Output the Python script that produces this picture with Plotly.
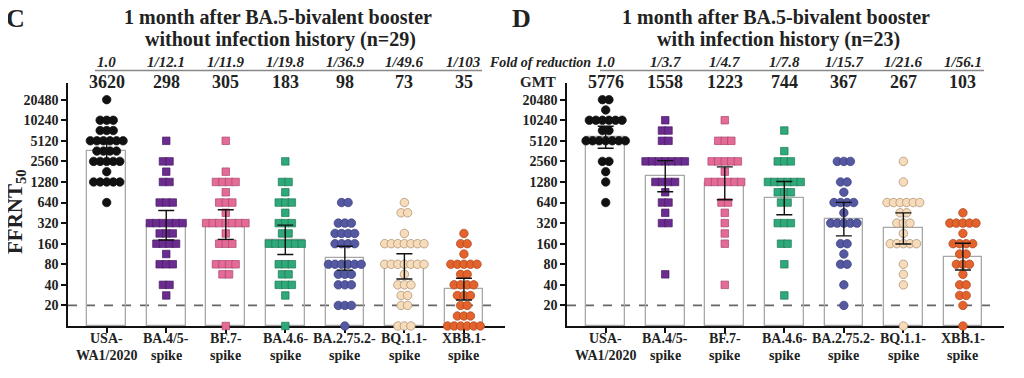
import numpy as np
import plotly.graph_objects as go

# ---------------- data ----------------
categories = [("USA-", "WA1/2020"), ("BA.4/5-", "spike"), ("BF.7-", "spike"), ("BA.4.6-", "spike"),
              ("BA.2.75.2-", "spike"), ("BQ.1.1-", "spike"), ("XBB.1-", "spike")]
fold_c = ["1.0", "1/12.1", "1/11.9", "1/19.8", "1/36.9", "1/49.6", "1/103"]
gmt_c = [3620, 298, 305, 183, 98, 73, 35]
fold_d = ["1.0", "1/3.7", "1/4.7", "1/7.8", "1/15.7", "1/21.6", "1/56.1"]
gmt_d = [5776, 1558, 1223, 744, 367, 267, 103]
y_ticks = [20, 40, 80, 160, 320, 640, 1280, 2560, 5120, 10240, 20480]
LOD = 20

# panel C: titre levels and number of sera at each level
usa_c_lv = [20480, 10240, 7240, 5120, 3620, 2560, 1810, 1280, 640]
usa_c_n = [1, 3, 3, 6, 4, 5, 1, 5, 1]
ba45_c_lv = [5120, 2560, 1810, 1280, 640, 320, 226, 160, 113, 80, 40, 28]
ba45_c_n = [1, 2, 1, 2, 3, 6, 3, 4, 1, 3, 2, 1]
bf7_c_lv = [5120, 1810, 1280, 905, 640, 453, 320, 226, 160, 80, 57, 10]
bf7_c_n = [1, 1, 4, 1, 3, 1, 7, 1, 3, 4, 2, 1]
ba46_c_lv = [2560, 1280, 905, 640, 453, 320, 226, 160, 80, 57, 40, 28, 10]
ba46_c_n = [1, 2, 1, 3, 1, 3, 2, 6, 3, 2, 3, 1, 1]
ba2752_c_lv = [640, 320, 226, 160, 80, 57, 40, 20, 10]
ba2752_c_n = [2, 3, 4, 4, 6, 3, 3, 3, 1]
bq11_c_lv = [640, 453, 226, 160, 80, 57, 40, 28, 20, 10]
bq11_c_n = [1, 2, 1, 7, 7, 1, 3, 2, 2, 3]
xbb1_c_lv = [226, 160, 113, 80, 57, 40, 28, 20, 14, 10]
xbb1_c_n = [1, 2, 1, 5, 2, 4, 3, 2, 3, 6]

# panel D
usa_d_lv = [20480, 14480, 10240, 7240, 5120, 2560, 1810, 1280, 640]
usa_d_n = [2, 1, 6, 2, 7, 2, 1, 1, 1]
ba45_d_lv = [10240, 7240, 5120, 2560, 1280, 905, 640, 453, 320, 57]
ba45_d_n = [1, 2, 2, 7, 4, 1, 2, 1, 2, 1]
bf7_d_lv = [10240, 5120, 2560, 1810, 1280, 640, 453, 320, 226, 160, 40]
bf7_d_n = [1, 3, 5, 1, 6, 2, 1, 1, 1, 1, 1]
ba46_d_lv = [7240, 3620, 2560, 1280, 905, 640, 320, 160, 80, 28]
ba46_d_n = [1, 1, 3, 6, 3, 2, 3, 2, 1, 1]
ba2752_d_lv = [2560, 1280, 905, 640, 453, 320, 160, 113, 80, 40, 20]
ba2752_d_n = [3, 2, 1, 4, 1, 5, 2, 1, 2, 1, 1]
bq11_d_lv = [2560, 1280, 640, 453, 320, 226, 160, 80, 57, 40, 10]
bq11_d_n = [1, 1, 6, 2, 3, 1, 5, 1, 1, 1, 1]
xbb1_d_lv = [453, 320, 226, 160, 113, 80, 57, 40, 28, 20, 10]
xbb1_d_n = [1, 5, 1, 4, 2, 3, 1, 2, 2, 1, 1]

series_c = [(usa_c_lv, usa_c_n), (ba45_c_lv, ba45_c_n), (bf7_c_lv, bf7_c_n), (ba46_c_lv, ba46_c_n),
            (ba2752_c_lv, ba2752_c_n), (bq11_c_lv, bq11_c_n), (xbb1_c_lv, xbb1_c_n)]
series_d = [(usa_d_lv, usa_d_n), (ba45_d_lv, ba45_d_n), (bf7_d_lv, bf7_d_n), (ba46_d_lv, ba46_d_n),
            (ba2752_d_lv, ba2752_d_n), (bq11_d_lv, bq11_d_n), (xbb1_d_lv, xbb1_d_n)]

# ---------------- styles ----------------
fills = ["#111111", "#6B2C8F", "#E56B97", "#2FA97A", "#5559A2", "#F6DCBA", "#E4632D"]
edges = ["#111111", "#4A1A66", "#A94570", "#1E7A55", "#383C7A", "#A8896A", "#A8451C"]
symbols = ["circle", "square", "square", "square", "circle", "circle", "circle"]
sizes = [8.5, 7.5, 7.5, 7.5, 8.5, 8.5, 8.5]
T_CRIT = {29: 2.048, 23: 2.074}
SERIF = "Liberation Serif"
DX = 0.11  # horizontal spacing of a swarm row, in category units

fig = go.Figure()


def add_panel(series, gmt, xa, ya):
    xs = list(range(len(series)))
    # bars at the GMT
    fig.add_trace(go.Bar(x=xs, y=[g - 10 for g in gmt], base=[10] * len(gmt), width=0.65,
                         marker=dict(color="rgba(255,255,255,0)", line=dict(color="#A8A8A8", width=1.3)),
                         xaxis=xa, yaxis=ya, showlegend=False, hoverinfo="skip"))
    gms, lo, hi = [], [], []
    for i, (lv, n) in enumerate(series):
        px_, py_ = [], []
        for v, c in zip(lv, n):
            for k in range(c):
                px_.append(i + (k - (c - 1) / 2) * DX)
                py_.append(v)
        fig.add_trace(go.Scatter(x=px_, y=py_, mode="markers", xaxis=xa, yaxis=ya, cliponaxis=False,
                                 marker=dict(symbol=symbols[i], size=sizes[i], color=fills[i],
                                             line=dict(color=edges[i], width=0.7)),
                                 showlegend=False, hoverinfo="skip"))
        lg = np.log2(np.array(py_, dtype=float))
        m = lg.mean()
        h = T_CRIT[len(lg)] * lg.std(ddof=1) / np.sqrt(len(lg))
        gms.append(2 ** m)
        lo.append(2 ** m - 2 ** (m - h))
        hi.append(2 ** (m + h) - 2 ** m)
    fig.add_trace(go.Scatter(x=xs, y=gms, mode="markers", xaxis=xa, yaxis=ya, cliponaxis=False,
                             marker=dict(size=2, color="rgba(0,0,0,0)"),
                             error_y=dict(type="data", symmetric=False, array=hi, arrayminus=lo,
                                          color="#111111", thickness=1.4, width=8),
                             showlegend=False, hoverinfo="skip"))


add_panel(series_c, gmt_c, "x", "y")
add_panel(series_d, gmt_d, "x2", "y2")

# The page body adds an 8px offset; size the figure so it lands where the reference is.
OFF = 8
W, H = 1024 - OFF, 378 - OFF
L, R, T, B = 68 - OFF, 20, 83 - OFF, 52
pw = W - L - R
d1 = [0, (505 - 68) / pw]
d2 = [(567 - 68) / pw, 1.0]

xr = [-0.65, 6.69]
yr = [1, np.log10(35900)]
xcommon = dict(range=xr, tickvals=list(range(7)), showticklabels=False, ticks="outside", ticklen=5,
               tickwidth=1.5, tickcolor="#111", showline=True, linecolor="#111", linewidth=2,
               showgrid=False, zeroline=False, layer="below traces", automargin=False)
ycommon = dict(type="log", range=yr, tickvals=y_ticks, ticktext=[str(t) for t in y_ticks],
               ticks="outside", ticklen=5, tickwidth=1.5, tickcolor="#111", showline=True,
               linecolor="#111", linewidth=1.5, showgrid=False, zeroline=False, automargin=False,
               tickfont=dict(family=SERIF, size=14, color="#222", weight="bold"))

fig.update_layout(
    width=W, height=H, margin=dict(l=L, r=R, t=T, b=B, autoexpand=False),
    paper_bgcolor="white", plot_bgcolor="white", bargap=0,
    xaxis=dict(domain=d1, anchor="y", **xcommon),
    yaxis=dict(domain=[0, 1], anchor="x", **ycommon),
    xaxis2=dict(domain=d2, anchor="y2", **xcommon),
    yaxis2=dict(domain=[0, 1], anchor="x2", **ycommon),
)

# dashed limit-of-detection line
for xa in ["x", "x2"]:
    fig.add_shape(type="line", xref=f"{xa} domain", yref=xa.replace("x", "y"), x0=0, x1=0.97,
                  y0=LOD, y1=LOD, line=dict(color="#666", width=1.6, dash="dash"), layer="below")


def py(pix):  # screen pixel row -> paper y
    return (H - B - (pix - OFF)) / (H - T - B)


def px(pix):  # screen pixel column -> paper x
    return (pix - OFF - L) / pw


ann = []
# panel letters
ann.append(dict(text="<b>C</b>", x=px(15), y=py(18), font=dict(size=26)))
ann.append(dict(text="<b>D</b>", x=px(521), y=py(18), font=dict(size=26)))
# titles (one annotation per line to keep the tight line spacing)
ann.append(dict(text="<b>1 month after BA.5-bivalent booster</b>", x=px(278), y=py(17), font=dict(size=20)))
ann.append(dict(text="<b>without infection history (n=29)</b>", x=px(280), y=py(39.5), font=dict(size=20)))
ann.append(dict(text="<b>1 month after BA.5-bivalent booster</b>", x=px(776), y=py(17), font=dict(size=20)))
ann.append(dict(text="<b>with infection history (n=23)</b>", x=px(778), y=py(39.5), font=dict(size=20)))
# fold / GMT row labels
ann.append(dict(text="<b><i>Fold of reduction</i></b>", x=px(540), y=py(62), font=dict(size=14)))
ann.append(dict(text="<b>GMT</b>", x=px(538), y=py(82), font=dict(size=15)))
# y title
ann.append(dict(text="<b>FFRNT<sub>50</sub></b>", x=px(16), y=py(212), textangle=-90, font=dict(size=21)))

for xa, folds, gm in [("x", fold_c, gmt_c), ("x2", fold_d, gmt_d)]:
    for i in range(7):
        ann.append(dict(text=f"<b><i>{folds[i]}</i></b>", x=i, xref=xa, y=py(62), font=dict(size=15)))
        ann.append(dict(text=f"<b>{gm[i]}</b>", x=i, xref=xa, y=py(82), font=dict(size=18)))
        ann.append(dict(text=f"<b>{categories[i][0]}</b>", x=i, xref=xa, y=py(338.5), font=dict(size=14)))
        ann.append(dict(text=f"<b>{categories[i][1]}</b>", x=i, xref=xa, y=py(355.5), font=dict(size=14)))

for a in ann:
    a.setdefault("xref", "paper")
    a["yref"] = "paper"
    a["showarrow"] = False
    a["xanchor"] = "center"
    a["yanchor"] = "middle"
    a["font"] = dict(family=SERIF, color="#222", **a["font"])
    fig.add_annotation(**a)

# rules under the fold-of-reduction row
for x0, x1 in [(95, 482), (600, 984)]:
    fig.add_shape(type="line", xref="paper", yref="paper", x0=px(x0), x1=px(x1), y0=py(70.5), y1=py(70.5),
                  line=dict(color="#888", width=1.5))

fig.write_html("out.html")
